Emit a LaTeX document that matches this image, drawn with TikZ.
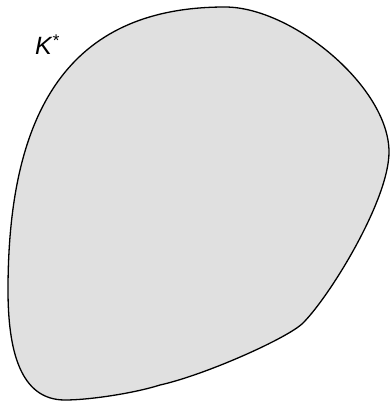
\documentclass[tikz,border=0pt]{standalone}
\usepackage{fontspec}
\setmainfont{Liberation Sans}
\definecolor{blobfill}{RGB}{224,224,224}
\begin{document}
\begin{tikzpicture}[x=1pt,y=-1pt,
  blob/.style={draw=black,line width=1.3pt,fill=blobfill,line join=round},
  lab/.style={font=\fontsize{25}{28}\selectfont,inner sep=0pt,anchor=base west}]
\useasboundingbox (0,0) rectangle (389,401);
\draw[blob] (225,7)
  .. controls (292,7) and (389,87) .. (389,152)
  .. controls (389,200) and (330,296) .. (303,323)
  .. controls (288,338) and (205,375) .. (160,385)
  .. controls (135,393) and (90,400) .. (65,400)
  .. controls (20,400) and (8,350) .. (8,290)
  .. controls (8,100) and (77,7) .. (225,7) -- cycle;
\node[lab] (k) at (35,55) {\textit{K}\raisebox{8pt}{\fontsize{17}{17}\selectfont *}};
\end{tikzpicture}
\end{document}
